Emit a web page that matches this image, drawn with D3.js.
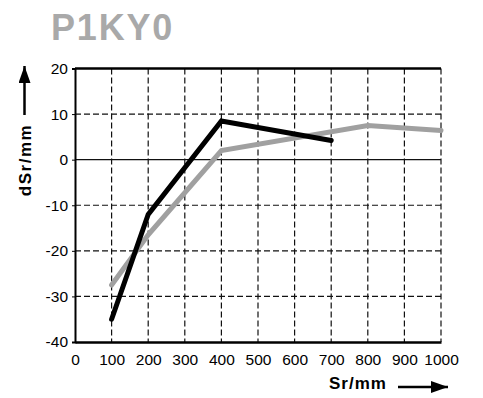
<!DOCTYPE html>
<html>
<head>
<meta charset="utf-8">
<script src="https://cdn.jsdelivr.net/npm/d3@7"></script>
<style>
  body { margin: 0; background: #fff; }
  text { font-family: "Liberation Sans", Arial, sans-serif; }
</style>
</head>
<body>
<div id="chart"></div>
<script>
// data
var title = "P1KY0";
var xTicks = [0, 100, 200, 300, 400, 500, 600, 700, 800, 900, 1000];
var yTicks = [-40, -30, -20, -10, 0, 10, 20];
var blackSr = [100, 200, 400, 700];
var blackDSr = [-35, -12, 8.5, 4.2];
var graySr = [100, 200, 400, 800, 1000];
var grayDSr = [-27.5, -16.5, 2, 7.5, 6.4];

var w = 483, h = 398;
var pLeft = 75, pRight = 441, pTop = 68.5, pBottom = 342;

var svg = d3.select("#chart").append("svg").attr("width", w).attr("height", h);

// arrow head
svg.append("defs").append("marker").attr("id", "arr").attr("viewBox", "0 0 17 12").attr("refX", 17).attr("refY", 6)
  .attr("markerWidth", 17).attr("markerHeight", 12).attr("markerUnits", "userSpaceOnUse").attr("orient", "auto")
  .append("path").attr("d", "M0,0 L17,6 L0,12 Z").attr("fill", "#000");

// scales
var xScale = d3.scaleLinear().domain([0, 1000]).range([pLeft, pRight]);
var yScale = d3.scaleLinear().domain([-40, 20]).range([pBottom, pTop]);
var fmt = function(d) { return String(d); };

// title
svg.append("text").attr("x", 51).attr("y", 40).style("font-size", "36px").style("font-weight", "bold")
  .style("letter-spacing", "1.8px").attr("fill", "#a9a9a9").text(title);

// grid
var grid = svg.append("g");
grid.selectAll(".vg").data(xTicks.filter(function(d) { return d > 0; })).enter().append("line")
  .attr("x1", function(d) { return xScale(d); }).attr("x2", function(d) { return xScale(d); })
  .attr("y1", pTop).attr("y2", pBottom)
  .attr("stroke", "#111").attr("stroke-width", 1.2).attr("stroke-dasharray", "6,3");
grid.selectAll(".hg").data(yTicks.filter(function(d) { return d > -40 && d < 20 && d != 0; })).enter().append("line")
  .attr("x1", pLeft).attr("x2", pRight)
  .attr("y1", function(d) { return yScale(d); }).attr("y2", function(d) { return yScale(d); })
  .attr("stroke", "#111").attr("stroke-width", 1.2).attr("stroke-dasharray", "6,3");
// zero line
grid.append("line").attr("x1", pLeft).attr("x2", pRight).attr("y1", yScale(0)).attr("y2", yScale(0))
  .attr("stroke", "#111").attr("stroke-width", 1.2);

// axes
var yAxis = d3.axisLeft(yScale).tickValues(yTicks).tickSize(3).tickPadding(4).tickFormat(fmt);
var gy = svg.append("g").attr("transform", "translate(" + pLeft + ",0)").call(yAxis);
gy.select(".domain").attr("stroke-width", 2);
gy.selectAll("text").style("font-size", "15.5px").attr("fill", "#000");

var xAxis = d3.axisBottom(xScale).tickValues(xTicks).tickSize(0).tickPadding(12).tickFormat(fmt);
var gx = svg.append("g").attr("transform", "translate(0," + pBottom + ")").call(xAxis);
gx.select(".domain").attr("stroke-width", 2.5);
gx.selectAll("text").style("font-size", "15.5px").attr("fill", "#000");

// top border
svg.append("line").attr("x1", pLeft).attr("x2", pRight).attr("y1", pTop).attr("y2", pTop)
  .attr("stroke", "#000").attr("stroke-width", 2.5);

// lines
var line = d3.line().x(function(d) { return xScale(d[0]); }).y(function(d) { return yScale(d[1]); });
svg.append("path").datum(d3.zip(graySr, grayDSr)).attr("d", line).attr("fill", "none")
  .attr("stroke", "#a0a0a0").attr("stroke-width", 5).attr("stroke-linejoin", "miter").attr("stroke-linecap", "round");
svg.append("path").datum(d3.zip(blackSr, blackDSr)).attr("d", line).attr("fill", "none")
  .attr("stroke", "#000").attr("stroke-width", 5).attr("stroke-linejoin", "miter").attr("stroke-linecap", "round");

// axis labels with arrows
svg.append("text").attr("transform", "translate(31,160) rotate(-90)").attr("text-anchor", "middle")
  .style("font-size", "17px").style("font-weight", "bold").style("letter-spacing", "1.5px").text("dSr/mm");
svg.append("line").attr("x1", 24.5).attr("x2", 24.5).attr("y1", 115).attr("y2", 66)
  .attr("stroke", "#000").attr("stroke-width", 2.5).attr("marker-end", "url(#arr)");

svg.append("text").attr("x", 358).attr("y", 389).attr("text-anchor", "middle")
  .style("font-size", "17px").style("font-weight", "bold").style("letter-spacing", "1px").text("Sr/mm");
svg.append("line").attr("x1", 398).attr("x2", 448).attr("y1", 387).attr("y2", 387)
  .attr("stroke", "#000").attr("stroke-width", 2.5).attr("marker-end", "url(#arr)");
</script>
</body>
</html>
